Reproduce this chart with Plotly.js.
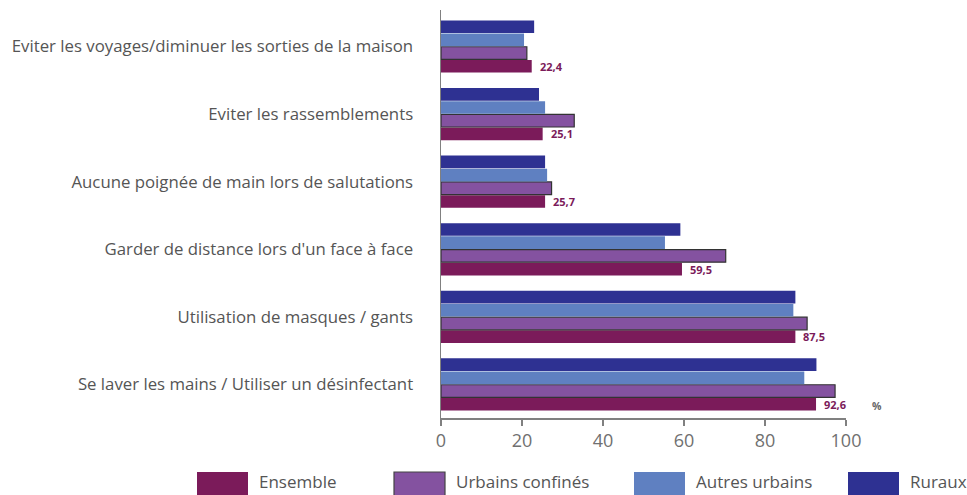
<!DOCTYPE html>
<html>
<head>
<meta charset="utf-8">
<script src="https://cdn.plot.ly/plotly-3.0.1.min.js"></script>
<style>html,body{margin:0;padding:0;background:#fff;}#chart{width:967px;height:495px;}</style>
</head>
<body>
<div id="chart"></div>
<script>
// Categories, top to bottom as in the chart
const categories = [
  "Eviter les voyages/diminuer les sorties de la maison",
  "Eviter les rassemblements",
  "Aucune poignée de main lors de salutations",
  "Garder de distance lors d'un face à face",
  "Utilisation de masques / gants",
  "Se laver les mains / Utiliser un désinfectant"
];
const ensemble = [22.4, 25.1, 25.7, 59.5, 87.5, 92.6];
const urbainsConfines = [21.2, 32.9, 27.3, 70.3, 90.4, 97.3];
const autresUrbains = [20.5, 25.7, 26.2, 55.3, 87.0, 89.7];
const ruraux = [23.0, 24.2, 25.7, 59.1, 87.5, 92.7];
const ensembleLabels = ["22,4", "25,1", "25,7", "59,5", "87,5", "92,6"];
const seriesNames = ["Ensemble", "Urbains confinés", "Autres urbains", "Ruraux"];
const seriesColors = ["#7B1B5A", "#8452A0", "#5F80C1", "#2E3192"];
const xTicks = [0, 20, 40, 60, 80, 100];

const W = 967, H = 495;
const M = {l: 441, r: 121, t: 10, b: 77};
const pw = W - M.l - M.r, ph = H - M.t - M.b;
const px = x => (x - M.l) / pw;
const py = y => (H - M.b - y) / ph;

const font = "Open Sans, Liberation Sans, sans-serif";
const seriesData = [ensemble, urbainsConfines, autresUrbains, ruraux];
const bargap = 0.22;
const nSeries = seriesData.length;
const slot = (1 - bargap) / nSeries;
const ensembleOffset = -((nSeries - 1) / 2) * slot;

const traces = seriesData.map((vals, i) => ({
  type: "bar",
  orientation: "h",
  name: seriesNames[i],
  y: categories,
  x: vals,
  marker: {color: seriesColors[i], line: {color: i === 1 ? "#333333" : seriesColors[i], width: i === 1 ? 1.2 : 0}},
  hoverinfo: "x+name",
  showlegend: false
}));

const shapes = [];
const annotations = [];
// value labels for "Ensemble"
ensemble.forEach((v, i) => {
  const idx = categories.length - 1 - i;
  annotations.push({
    xref: "x", yref: "y", x: v, y: idx + ensembleOffset,
    xanchor: "left", yanchor: "middle", xshift: 6, showarrow: false,
    text: "<b>" + ensembleLabels[i] + "</b>",
    font: {family: font, size: 11, color: "#7B1B5A"}
  });
});
// legend built from series names and colors
const legendSwatchX = [197, 394, 634, 848];
seriesNames.forEach((n, i) => {
  shapes.push({
    type: "rect", xref: "paper", yref: "paper",
    x0: px(legendSwatchX[i]), x1: px(legendSwatchX[i] + 51),
    y0: py(472), y1: py(496),
    fillcolor: seriesColors[i],
    line: {color: i === 1 ? "#444" : seriesColors[i], width: i === 1 ? 1.2 : 0}
  });
  annotations.push({
    xref: "paper", yref: "paper", x: px(legendSwatchX[i] + 60), y: py(495),
    xanchor: "left", yanchor: "bottom", showarrow: false,
    text: n, font: {family: font, size: 17, color: "#555"}
  });
});
annotations.push({
  xref: "paper", yref: "paper", x: px(877), y: py(406),
  xanchor: "center", yanchor: "middle", showarrow: false,
  text: "<b>%</b>", font: {family: font, size: 10.5, color: "#666"}
});

const layout = {
  width: W, height: H,
  margin: M,
  paper_bgcolor: "#fff", plot_bgcolor: "#fff",
  barmode: "group",
  bargap: bargap,
  bargroupgap: 0.04,
  showlegend: false,
  font: {family: font, color: "#555"},
  xaxis: {
    range: [0, 100],
    tickvals: xTicks,
    ticktext: xTicks.map(String),
    showgrid: false, zeroline: false,
    showline: true, linecolor: "#808080", linewidth: 1.5,
    ticks: "outside", ticklen: 6, tickcolor: "#808080", tickwidth: 1.5,
    tickfont: {family: font, size: 18, color: "#707070"},
    fixedrange: true
  },
  yaxis: {
    type: "category",
    categoryorder: "array",
    categoryarray: categories.slice().reverse(),
    range: [-0.496, 5.54],
    showgrid: false, zeroline: false,
    showline: true, linecolor: "#808080", linewidth: 1.5,
    ticks: "", ticklabelstandoff: 23,
    tickfont: {family: font, size: 16.8, color: "#555"},
    fixedrange: true
  },
  shapes: shapes,
  annotations: annotations
};

Plotly.newPlot("chart", traces, layout, {displayModeBar: false, staticPlot: true});
</script>
</body>
</html>
